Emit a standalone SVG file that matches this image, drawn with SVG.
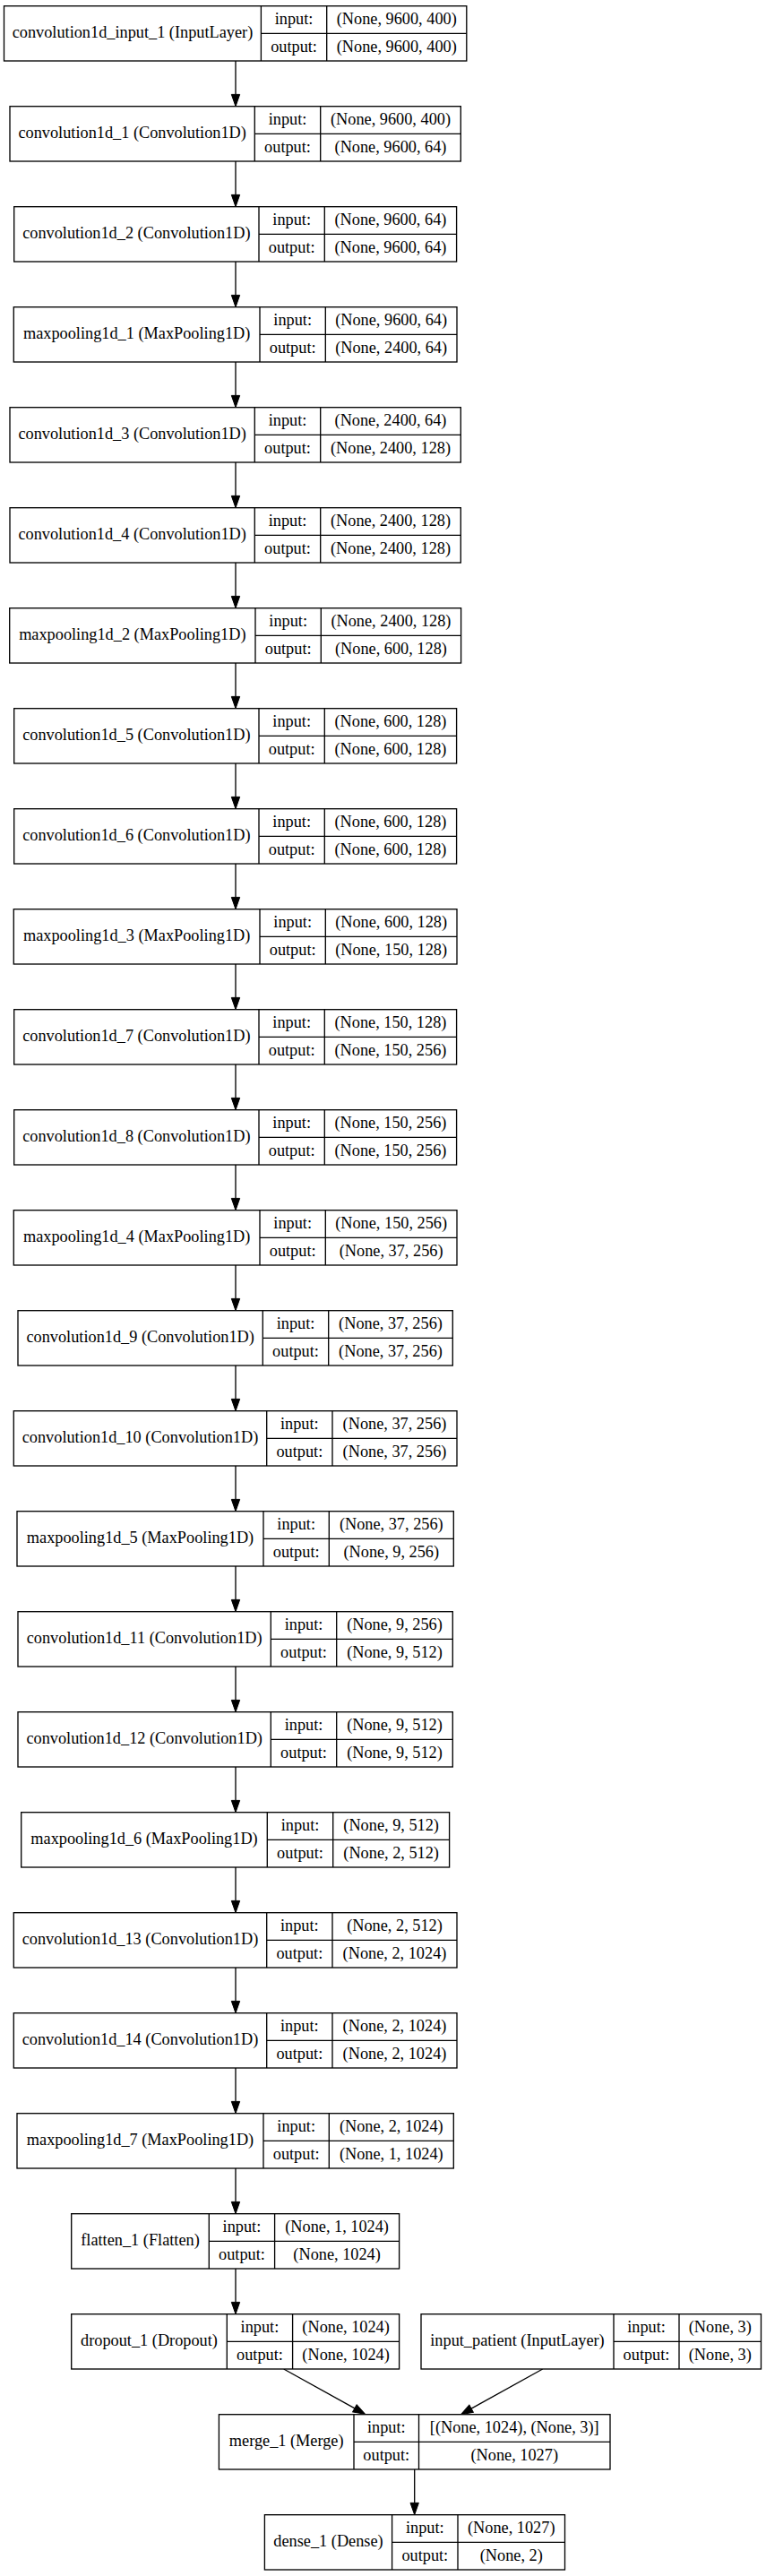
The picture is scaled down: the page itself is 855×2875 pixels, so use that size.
<svg xmlns="http://www.w3.org/2000/svg" width="855" height="2875" viewBox="0 0 855 2875">
<defs>
<style>
.b{fill:#fff;stroke:#000;stroke-width:1.33}
.s{stroke:#000;stroke-width:1.33;fill:none}
.e{stroke:#000;stroke-width:1.33;fill:none;marker-end:url(#ah)}
text{font-family:"Liberation Serif","Times New Roman",serif;font-size:18.3px;fill:#000;text-anchor:middle}
</style>
<marker id="ah" markerUnits="userSpaceOnUse" markerWidth="13.3" markerHeight="9.34" viewBox="0 0 13.3 9.34" refX="0" refY="4.67" orient="auto" overflow="visible">
<path d="M0,0 L13.3,4.67 L0,9.34 z" fill="#000" stroke="#000" stroke-width="1"/>
</marker>
</defs>
<rect x="0" y="0" width="855" height="2875" fill="#fff"/>

<g id="connectors">
<line class="e" x1="263" y1="68" x2="263" y2="105.4"/>
<line class="e" x1="263" y1="180" x2="263" y2="217.4"/>
<line class="e" x1="263" y1="292" x2="263" y2="329.4"/>
<line class="e" x1="263" y1="404" x2="263" y2="441.4"/>
<line class="e" x1="263" y1="516" x2="263" y2="553.4"/>
<line class="e" x1="263" y1="628" x2="263" y2="665.4"/>
<line class="e" x1="263" y1="740" x2="263" y2="777.4"/>
<line class="e" x1="263" y1="852" x2="263" y2="889.4"/>
<line class="e" x1="263" y1="964" x2="263" y2="1001.4"/>
<line class="e" x1="263" y1="1076" x2="263" y2="1113.4"/>
<line class="e" x1="263" y1="1188" x2="263" y2="1225.4"/>
<line class="e" x1="263" y1="1300" x2="263" y2="1337.4"/>
<line class="e" x1="263" y1="1412" x2="263" y2="1449.4"/>
<line class="e" x1="263" y1="1524" x2="263" y2="1561.4"/>
<line class="e" x1="263" y1="1636" x2="263" y2="1673.4"/>
<line class="e" x1="263" y1="1748" x2="263" y2="1785.4"/>
<line class="e" x1="263" y1="1860" x2="263" y2="1897.4"/>
<line class="e" x1="263" y1="1972" x2="263" y2="2009.4"/>
<line class="e" x1="263" y1="2084" x2="263" y2="2121.4"/>
<line class="e" x1="263" y1="2196" x2="263" y2="2233.4"/>
<line class="e" x1="263" y1="2308" x2="263" y2="2345.4"/>
<line class="e" x1="263" y1="2420" x2="263" y2="2457.4"/>
<line class="e" x1="263" y1="2532" x2="263" y2="2569.4"/>
<line class="e" x1="316.7" y1="2644" x2="395.87" y2="2687.85"/>
<line class="e" x1="605.7" y1="2644" x2="526.1" y2="2688.2"/>
<line class="e" x1="462.7" y1="2756" x2="462.7" y2="2793.4"/>
</g>

<g id="convolution1d_input_1" transform="translate(0,6.7)">
<rect class="b" x="4.5" y="0" width="516.3" height="61.3"/>
<line class="s" x1="291.4" y1="0" x2="291.4" y2="61.3"/><line class="s" x1="364.7" y1="0" x2="364.7" y2="61.3"/><line class="s" x1="291.4" y1="30.65" x2="520.8" y2="30.65"/>
<text x="147.95" y="35.4">convolution1d_input_1 (InputLayer)</text>
<text x="328.05" y="20.6">input:</text><text x="442.75" y="20.6">(None, 9600, 400)</text>
<text x="328.05" y="51.3">output:</text><text x="442.75" y="51.3">(None, 9600, 400)</text>
</g>

<g id="convolution1d_1" transform="translate(0,118.7)">
<rect class="b" x="11" y="0" width="503.3" height="61.3"/>
<line class="s" x1="284.3" y1="0" x2="284.3" y2="61.3"/><line class="s" x1="357.7" y1="0" x2="357.7" y2="61.3"/><line class="s" x1="284.3" y1="30.65" x2="514.3" y2="30.65"/>
<text x="147.65" y="35.4">convolution1d_1 (Convolution1D)</text>
<text x="321" y="20.6">input:</text><text x="436" y="20.6">(None, 9600, 400)</text>
<text x="321" y="51.3">output:</text><text x="436" y="51.3">(None, 9600, 64)</text>
</g>

<g id="convolution1d_2" transform="translate(0,230.7)">
<rect class="b" x="15.7" y="0" width="493.9" height="61.3"/>
<line class="s" x1="289" y1="0" x2="289" y2="61.3"/><line class="s" x1="362.3" y1="0" x2="362.3" y2="61.3"/><line class="s" x1="289" y1="30.65" x2="509.6" y2="30.65"/>
<text x="152.35" y="35.4">convolution1d_2 (Convolution1D)</text>
<text x="325.65" y="20.6">input:</text><text x="435.95" y="20.6">(None, 9600, 64)</text>
<text x="325.65" y="51.3">output:</text><text x="435.95" y="51.3">(None, 9600, 64)</text>
</g>

<g id="maxpooling1d_1" transform="translate(0,342.7)">
<rect class="b" x="15.3" y="0" width="494.7" height="61.3"/>
<line class="s" x1="290" y1="0" x2="290" y2="61.3"/><line class="s" x1="363.3" y1="0" x2="363.3" y2="61.3"/><line class="s" x1="290" y1="30.65" x2="510" y2="30.65"/>
<text x="152.65" y="35.4">maxpooling1d_1 (MaxPooling1D)</text>
<text x="326.65" y="20.6">input:</text><text x="436.65" y="20.6">(None, 9600, 64)</text>
<text x="326.65" y="51.3">output:</text><text x="436.65" y="51.3">(None, 2400, 64)</text>
</g>

<g id="convolution1d_3" transform="translate(0,454.7)">
<rect class="b" x="11" y="0" width="503.3" height="61.3"/>
<line class="s" x1="284.3" y1="0" x2="284.3" y2="61.3"/><line class="s" x1="357.7" y1="0" x2="357.7" y2="61.3"/><line class="s" x1="284.3" y1="30.65" x2="514.3" y2="30.65"/>
<text x="147.65" y="35.4">convolution1d_3 (Convolution1D)</text>
<text x="321" y="20.6">input:</text><text x="436" y="20.6">(None, 2400, 64)</text>
<text x="321" y="51.3">output:</text><text x="436" y="51.3">(None, 2400, 128)</text>
</g>

<g id="convolution1d_4" transform="translate(0,566.7)">
<rect class="b" x="11" y="0" width="503.3" height="61.3"/>
<line class="s" x1="284.3" y1="0" x2="284.3" y2="61.3"/><line class="s" x1="357.7" y1="0" x2="357.7" y2="61.3"/><line class="s" x1="284.3" y1="30.65" x2="514.3" y2="30.65"/>
<text x="147.65" y="35.4">convolution1d_4 (Convolution1D)</text>
<text x="321" y="20.6">input:</text><text x="436" y="20.6">(None, 2400, 128)</text>
<text x="321" y="51.3">output:</text><text x="436" y="51.3">(None, 2400, 128)</text>
</g>

<g id="maxpooling1d_2" transform="translate(0,678.7)">
<rect class="b" x="10.7" y="0" width="503.9" height="61.3"/>
<line class="s" x1="285" y1="0" x2="285" y2="61.3"/><line class="s" x1="358.3" y1="0" x2="358.3" y2="61.3"/><line class="s" x1="285" y1="30.65" x2="514.6" y2="30.65"/>
<text x="147.85" y="35.4">maxpooling1d_2 (MaxPooling1D)</text>
<text x="321.65" y="20.6">input:</text><text x="436.45" y="20.6">(None, 2400, 128)</text>
<text x="321.65" y="51.3">output:</text><text x="436.45" y="51.3">(None, 600, 128)</text>
</g>

<g id="convolution1d_5" transform="translate(0,790.7)">
<rect class="b" x="15.7" y="0" width="493.9" height="61.3"/>
<line class="s" x1="289" y1="0" x2="289" y2="61.3"/><line class="s" x1="362.3" y1="0" x2="362.3" y2="61.3"/><line class="s" x1="289" y1="30.65" x2="509.6" y2="30.65"/>
<text x="152.35" y="35.4">convolution1d_5 (Convolution1D)</text>
<text x="325.65" y="20.6">input:</text><text x="435.95" y="20.6">(None, 600, 128)</text>
<text x="325.65" y="51.3">output:</text><text x="435.95" y="51.3">(None, 600, 128)</text>
</g>

<g id="convolution1d_6" transform="translate(0,902.7)">
<rect class="b" x="15.7" y="0" width="493.9" height="61.3"/>
<line class="s" x1="289" y1="0" x2="289" y2="61.3"/><line class="s" x1="362.3" y1="0" x2="362.3" y2="61.3"/><line class="s" x1="289" y1="30.65" x2="509.6" y2="30.65"/>
<text x="152.35" y="35.4">convolution1d_6 (Convolution1D)</text>
<text x="325.65" y="20.6">input:</text><text x="435.95" y="20.6">(None, 600, 128)</text>
<text x="325.65" y="51.3">output:</text><text x="435.95" y="51.3">(None, 600, 128)</text>
</g>

<g id="maxpooling1d_3" transform="translate(0,1014.7)">
<rect class="b" x="15.3" y="0" width="494.7" height="61.3"/>
<line class="s" x1="290" y1="0" x2="290" y2="61.3"/><line class="s" x1="363.3" y1="0" x2="363.3" y2="61.3"/><line class="s" x1="290" y1="30.65" x2="510" y2="30.65"/>
<text x="152.65" y="35.4">maxpooling1d_3 (MaxPooling1D)</text>
<text x="326.65" y="20.6">input:</text><text x="436.65" y="20.6">(None, 600, 128)</text>
<text x="326.65" y="51.3">output:</text><text x="436.65" y="51.3">(None, 150, 128)</text>
</g>

<g id="convolution1d_7" transform="translate(0,1126.7)">
<rect class="b" x="15.7" y="0" width="493.9" height="61.3"/>
<line class="s" x1="289" y1="0" x2="289" y2="61.3"/><line class="s" x1="362.3" y1="0" x2="362.3" y2="61.3"/><line class="s" x1="289" y1="30.65" x2="509.6" y2="30.65"/>
<text x="152.35" y="35.4">convolution1d_7 (Convolution1D)</text>
<text x="325.65" y="20.6">input:</text><text x="435.95" y="20.6">(None, 150, 128)</text>
<text x="325.65" y="51.3">output:</text><text x="435.95" y="51.3">(None, 150, 256)</text>
</g>

<g id="convolution1d_8" transform="translate(0,1238.7)">
<rect class="b" x="15.7" y="0" width="493.9" height="61.3"/>
<line class="s" x1="289" y1="0" x2="289" y2="61.3"/><line class="s" x1="362.3" y1="0" x2="362.3" y2="61.3"/><line class="s" x1="289" y1="30.65" x2="509.6" y2="30.65"/>
<text x="152.35" y="35.4">convolution1d_8 (Convolution1D)</text>
<text x="325.65" y="20.6">input:</text><text x="435.95" y="20.6">(None, 150, 256)</text>
<text x="325.65" y="51.3">output:</text><text x="435.95" y="51.3">(None, 150, 256)</text>
</g>

<g id="maxpooling1d_4" transform="translate(0,1350.7)">
<rect class="b" x="15.3" y="0" width="494.7" height="61.3"/>
<line class="s" x1="290" y1="0" x2="290" y2="61.3"/><line class="s" x1="363.3" y1="0" x2="363.3" y2="61.3"/><line class="s" x1="290" y1="30.65" x2="510" y2="30.65"/>
<text x="152.65" y="35.4">maxpooling1d_4 (MaxPooling1D)</text>
<text x="326.65" y="20.6">input:</text><text x="436.65" y="20.6">(None, 150, 256)</text>
<text x="326.65" y="51.3">output:</text><text x="436.65" y="51.3">(None, 37, 256)</text>
</g>

<g id="convolution1d_9" transform="translate(0,1462.7)">
<rect class="b" x="20" y="0" width="485.3" height="61.3"/>
<line class="s" x1="293.3" y1="0" x2="293.3" y2="61.3"/><line class="s" x1="366.7" y1="0" x2="366.7" y2="61.3"/><line class="s" x1="293.3" y1="30.65" x2="505.3" y2="30.65"/>
<text x="156.65" y="35.4">convolution1d_9 (Convolution1D)</text>
<text x="330" y="20.6">input:</text><text x="436" y="20.6">(None, 37, 256)</text>
<text x="330" y="51.3">output:</text><text x="436" y="51.3">(None, 37, 256)</text>
</g>

<g id="convolution1d_10" transform="translate(0,1574.7)">
<rect class="b" x="15.3" y="0" width="494.7" height="61.3"/>
<line class="s" x1="297.7" y1="0" x2="297.7" y2="61.3"/><line class="s" x1="371" y1="0" x2="371" y2="61.3"/><line class="s" x1="297.7" y1="30.65" x2="510" y2="30.65"/>
<text x="156.5" y="35.4">convolution1d_10 (Convolution1D)</text>
<text x="334.35" y="20.6">input:</text><text x="440.5" y="20.6">(None, 37, 256)</text>
<text x="334.35" y="51.3">output:</text><text x="440.5" y="51.3">(None, 37, 256)</text>
</g>

<g id="maxpooling1d_5" transform="translate(0,1686.7)">
<rect class="b" x="19" y="0" width="487.3" height="61.3"/>
<line class="s" x1="294" y1="0" x2="294" y2="61.3"/><line class="s" x1="367.3" y1="0" x2="367.3" y2="61.3"/><line class="s" x1="294" y1="30.65" x2="506.3" y2="30.65"/>
<text x="156.5" y="35.4">maxpooling1d_5 (MaxPooling1D)</text>
<text x="330.65" y="20.6">input:</text><text x="436.8" y="20.6">(None, 37, 256)</text>
<text x="330.65" y="51.3">output:</text><text x="436.8" y="51.3">(None, 9, 256)</text>
</g>

<g id="convolution1d_11" transform="translate(0,1798.7)">
<rect class="b" x="20" y="0" width="485.3" height="61.3"/>
<line class="s" x1="302.3" y1="0" x2="302.3" y2="61.3"/><line class="s" x1="375.7" y1="0" x2="375.7" y2="61.3"/><line class="s" x1="302.3" y1="30.65" x2="505.3" y2="30.65"/>
<text x="161.15" y="35.4">convolution1d_11 (Convolution1D)</text>
<text x="339" y="20.6">input:</text><text x="440.5" y="20.6">(None, 9, 256)</text>
<text x="339" y="51.3">output:</text><text x="440.5" y="51.3">(None, 9, 512)</text>
</g>

<g id="convolution1d_12" transform="translate(0,1910.7)">
<rect class="b" x="20" y="0" width="485.3" height="61.3"/>
<line class="s" x1="302.3" y1="0" x2="302.3" y2="61.3"/><line class="s" x1="375.7" y1="0" x2="375.7" y2="61.3"/><line class="s" x1="302.3" y1="30.65" x2="505.3" y2="30.65"/>
<text x="161.15" y="35.4">convolution1d_12 (Convolution1D)</text>
<text x="339" y="20.6">input:</text><text x="440.5" y="20.6">(None, 9, 512)</text>
<text x="339" y="51.3">output:</text><text x="440.5" y="51.3">(None, 9, 512)</text>
</g>

<g id="maxpooling1d_6" transform="translate(0,2022.7)">
<rect class="b" x="23.7" y="0" width="477.9" height="61.3"/>
<line class="s" x1="298.3" y1="0" x2="298.3" y2="61.3"/><line class="s" x1="371.7" y1="0" x2="371.7" y2="61.3"/><line class="s" x1="298.3" y1="30.65" x2="501.6" y2="30.65"/>
<text x="161" y="35.4">maxpooling1d_6 (MaxPooling1D)</text>
<text x="335" y="20.6">input:</text><text x="436.65" y="20.6">(None, 9, 512)</text>
<text x="335" y="51.3">output:</text><text x="436.65" y="51.3">(None, 2, 512)</text>
</g>

<g id="convolution1d_13" transform="translate(0,2134.7)">
<rect class="b" x="15.3" y="0" width="494.7" height="61.3"/>
<line class="s" x1="297.7" y1="0" x2="297.7" y2="61.3"/><line class="s" x1="371" y1="0" x2="371" y2="61.3"/><line class="s" x1="297.7" y1="30.65" x2="510" y2="30.65"/>
<text x="156.5" y="35.4">convolution1d_13 (Convolution1D)</text>
<text x="334.35" y="20.6">input:</text><text x="440.5" y="20.6">(None, 2, 512)</text>
<text x="334.35" y="51.3">output:</text><text x="440.5" y="51.3">(None, 2, 1024)</text>
</g>

<g id="convolution1d_14" transform="translate(0,2246.7)">
<rect class="b" x="15.3" y="0" width="494.7" height="61.3"/>
<line class="s" x1="297.7" y1="0" x2="297.7" y2="61.3"/><line class="s" x1="371" y1="0" x2="371" y2="61.3"/><line class="s" x1="297.7" y1="30.65" x2="510" y2="30.65"/>
<text x="156.5" y="35.4">convolution1d_14 (Convolution1D)</text>
<text x="334.35" y="20.6">input:</text><text x="440.5" y="20.6">(None, 2, 1024)</text>
<text x="334.35" y="51.3">output:</text><text x="440.5" y="51.3">(None, 2, 1024)</text>
</g>

<g id="maxpooling1d_7" transform="translate(0,2358.7)">
<rect class="b" x="19" y="0" width="487.3" height="61.3"/>
<line class="s" x1="294" y1="0" x2="294" y2="61.3"/><line class="s" x1="367.3" y1="0" x2="367.3" y2="61.3"/><line class="s" x1="294" y1="30.65" x2="506.3" y2="30.65"/>
<text x="156.5" y="35.4">maxpooling1d_7 (MaxPooling1D)</text>
<text x="330.65" y="20.6">input:</text><text x="436.8" y="20.6">(None, 2, 1024)</text>
<text x="330.65" y="51.3">output:</text><text x="436.8" y="51.3">(None, 1, 1024)</text>
</g>

<g id="flatten_1" transform="translate(0,2470.7)">
<rect class="b" x="79.7" y="0" width="365.9" height="61.3"/>
<line class="s" x1="233.3" y1="0" x2="233.3" y2="61.3"/><line class="s" x1="306.6" y1="0" x2="306.6" y2="61.3"/><line class="s" x1="233.3" y1="30.65" x2="445.6" y2="30.65"/>
<text x="156.5" y="35.4">flatten_1 (Flatten)</text>
<text x="269.95" y="20.6">input:</text><text x="376.1" y="20.6">(None, 1, 1024)</text>
<text x="269.95" y="51.3">output:</text><text x="376.1" y="51.3">(None, 1024)</text>
</g>

<g id="dropout_1" transform="translate(0,2582.7)">
<rect class="b" x="79.7" y="0" width="365.9" height="61.3"/>
<line class="s" x1="253.3" y1="0" x2="253.3" y2="61.3"/><line class="s" x1="326.6" y1="0" x2="326.6" y2="61.3"/><line class="s" x1="253.3" y1="30.65" x2="445.6" y2="30.65"/>
<text x="166.5" y="35.4">dropout_1 (Dropout)</text>
<text x="289.95" y="20.6">input:</text><text x="386.1" y="20.6">(None, 1024)</text>
<text x="289.95" y="51.3">output:</text><text x="386.1" y="51.3">(None, 1024)</text>
</g>

<g id="input_patient" transform="translate(0,2582.7)">
<rect class="b" x="470" y="0" width="379.5" height="61.3"/>
<line class="s" x1="685" y1="0" x2="685" y2="61.3"/><line class="s" x1="758" y1="0" x2="758" y2="61.3"/><line class="s" x1="685" y1="30.65" x2="849.5" y2="30.65"/>
<text x="577.5" y="35.4">input_patient (InputLayer)</text>
<text x="721.5" y="20.6">input:</text><text x="803.75" y="20.6">(None, 3)</text>
<text x="721.5" y="51.3">output:</text><text x="803.75" y="51.3">(None, 3)</text>
</g>

<g id="merge_1" transform="translate(0,2694.7)">
<rect class="b" x="244.4" y="0" width="436.6" height="61.3"/>
<line class="s" x1="395" y1="0" x2="395" y2="61.3"/><line class="s" x1="467.5" y1="0" x2="467.5" y2="61.3"/><line class="s" x1="395" y1="30.65" x2="681" y2="30.65"/>
<text x="319.7" y="35.4">merge_1 (Merge)</text>
<text x="431.25" y="20.6">input:</text><text x="574.25" y="20.6">[(None, 1024), (None, 3)]</text>
<text x="431.25" y="51.3">output:</text><text x="574.25" y="51.3">(None, 1027)</text>
</g>

<g id="dense_1" transform="translate(0,2806.7)">
<rect class="b" x="295.4" y="0" width="335.1" height="61.3"/>
<line class="s" x1="437.6" y1="0" x2="437.6" y2="61.3"/><line class="s" x1="511" y1="0" x2="511" y2="61.3"/><line class="s" x1="437.6" y1="30.65" x2="630.5" y2="30.65"/>
<text x="366.5" y="35.4">dense_1 (Dense)</text>
<text x="474.3" y="20.6">input:</text><text x="570.75" y="20.6">(None, 1027)</text>
<text x="474.3" y="51.3">output:</text><text x="570.75" y="51.3">(None, 2)</text>
</g>
</svg>
